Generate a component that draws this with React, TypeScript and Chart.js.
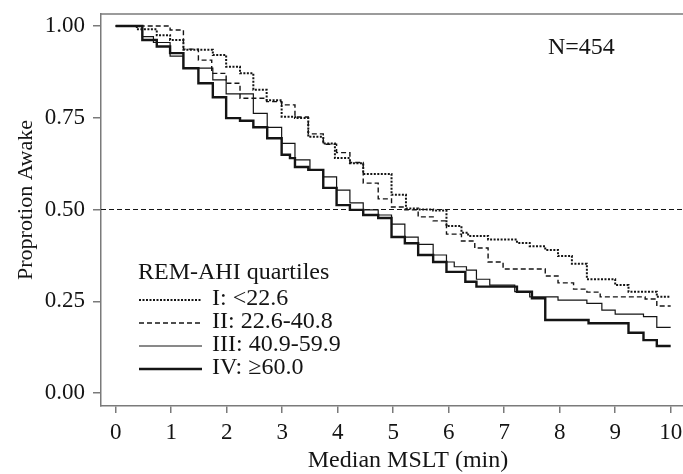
import React, { useEffect, useRef } from "react";
import { Chart, registerables } from "chart.js";

Chart.register(...registerables);

// ---------- data ----------
const seriesNames = ["I: <22.6", "II: 22.6-40.8", "III: 40.9-59.9", "IV: \u226560.0"];
const legendTitle = "REM-AHI quartiles";
const annotationText = "N=454";
const xTitle = "Median MSLT (min)";
const yTitle = "Proprotion Awake";
const xTickValues = [0, 1, 2, 3, 4, 5, 6, 7, 8, 9, 10];
const yTickValues = [0, 0.25, 0.5, 0.75, 1];
const referenceY = 0.5;
const xRange = [-0.265, 10.222];
const yRange = [-0.0354, 1.0327];

// Quartile I (dotted)
const q1Time = [0, 0.38, 0.74, 0.98, 1.22, 1.75, 1.99, 2.24, 2.48, 2.72, 2.99, 3.23, 3.47, 3.74, 3.95, 4.22, 4.46, 4.97, 5.23, 5.45, 5.72, 5.96, 6.23, 6.35, 6.71, 7.23, 7.46, 7.74, 7.97, 8.22, 8.49, 9.0, 9.24, 9.75, 10.0];
const q1Surv = [1.0, 0.991, 0.975, 0.962, 0.935, 0.921, 0.889, 0.871, 0.826, 0.798, 0.753, 0.749, 0.698, 0.68, 0.64, 0.626, 0.597, 0.54, 0.503, 0.5, 0.497, 0.455, 0.437, 0.428, 0.418, 0.409, 0.4, 0.39, 0.373, 0.352, 0.31, 0.294, 0.276, 0.262, 0.262];

// Quartile II (dashed)
const q2Time = [0, 0.98, 1.22, 1.49, 1.73, 1.99, 2.24, 2.72, 2.99, 3.23, 3.47, 3.74, 3.98, 4.22, 4.46, 4.73, 4.97, 5.21, 5.45, 5.72, 5.96, 6.23, 6.47, 6.71, 6.98, 7.74, 7.97, 8.25, 8.49, 8.73, 9.54, 9.75, 10.0];
const q2Surv = [1.0, 0.989, 0.937, 0.907, 0.871, 0.844, 0.803, 0.794, 0.785, 0.752, 0.706, 0.678, 0.655, 0.628, 0.572, 0.529, 0.507, 0.499, 0.48, 0.469, 0.433, 0.414, 0.395, 0.357, 0.338, 0.319, 0.3, 0.283, 0.275, 0.262, 0.256, 0.237, 0.237];

// Quartile III (thin solid)
const q3Time = [0, 0.48, 0.68, 0.98, 1.22, 1.75, 1.99, 2.48, 2.73, 2.99, 3.23, 3.5, 3.74, 3.98, 4.22, 4.46, 4.73, 4.97, 5.21, 5.45, 5.72, 5.96, 6.1, 6.32, 6.5, 6.74, 7.19, 7.46, 7.97, 8.49, 8.76, 9.0, 9.51, 9.75, 10.0];
const q3Surv = [1.0, 0.971, 0.955, 0.918, 0.885, 0.853, 0.815, 0.762, 0.724, 0.68, 0.635, 0.608, 0.589, 0.553, 0.518, 0.499, 0.485, 0.46, 0.425, 0.405, 0.376, 0.357, 0.344, 0.335, 0.31, 0.294, 0.276, 0.262, 0.253, 0.244, 0.226, 0.215, 0.208, 0.179, 0.179];

// Quartile IV (thick solid)
const q4Time = [0, 0.48, 0.74, 0.98, 1.22, 1.49, 1.75, 1.99, 2.24, 2.48, 2.73, 2.99, 3.14, 3.23, 3.47, 3.74, 3.98, 4.22, 4.46, 4.73, 4.97, 5.21, 5.45, 5.72, 5.96, 6.3, 6.5, 7.23, 7.5, 7.74, 8.52, 9.24, 9.51, 9.75, 10.0];
const q4Surv = [1.0, 0.962, 0.944, 0.926, 0.885, 0.844, 0.806, 0.749, 0.742, 0.724, 0.694, 0.649, 0.64, 0.616, 0.608, 0.559, 0.512, 0.499, 0.485, 0.477, 0.425, 0.408, 0.376, 0.357, 0.33, 0.303, 0.29, 0.276, 0.258, 0.199, 0.19, 0.164, 0.144, 0.128, 0.128];

const seriesTimes = [q1Time, q2Time, q3Time, q4Time];
const seriesSurv = [q1Surv, q2Surv, q3Surv, q4Surv];

// ---------- styles ----------
const INK = "#141414";
const AXIS = "#7a7a7a";
const FONT = "'Liberation Serif', 'DejaVu Serif', serif";
const seriesStyles = [
  { width: 2, dash: [2, 1.5] },
  { width: 1.4, dash: [5, 3] },
  { width: 1.2, dash: [] as number[] },
  { width: 2.4, dash: [] as number[] },
];

const overlayPlugin = {
  id: "overlay",
  afterDraw(chart: any) {
    const ctx = chart.ctx as CanvasRenderingContext2D;
    const area = chart.chartArea;
    ctx.save();
    // top frame line
    ctx.strokeStyle = AXIS;
    ctx.lineWidth = 1.5;
    ctx.beginPath();
    ctx.moveTo(area.left, area.top);
    ctx.lineTo(area.right, area.top);
    ctx.stroke();

    ctx.fillStyle = INK;
    ctx.font = `24px ${FONT}`;
    ctx.textAlign = "left";
    ctx.textBaseline = "alphabetic";
    ctx.fillText(annotationText, 548, 54);

    // legend
    ctx.fillText(legendTitle, 138, 279);
    const baselines = [305, 328, 351, 374];
    seriesNames.forEach((name, i) => {
      const st = seriesStyles[i];
      ctx.strokeStyle = INK;
      ctx.lineWidth = st.width;
      ctx.setLineDash(st.dash);
      ctx.beginPath();
      ctx.moveTo(139, baselines[i] - 5);
      ctx.lineTo(202, baselines[i] - 5);
      ctx.stroke();
      ctx.setLineDash([]);
      ctx.fillText(name, 212, baselines[i]);
    });

    // axis titles
    ctx.textAlign = "center";
    ctx.fillText(xTitle, 408, 467);
    ctx.save();
    ctx.translate(26, 200);
    ctx.rotate(-Math.PI / 2);
    ctx.font = `22px ${FONT}`;
    ctx.textBaseline = "middle";
    ctx.fillText(yTitle, 0, 0);
    ctx.restore();
    ctx.restore();
  },
};

export default function App() {
  const canvasRef = useRef<HTMLCanvasElement | null>(null);

  useEffect(() => {
    document.body.style.margin = "0";
    const canvas = canvasRef.current;
    if (!canvas) return;

    const datasets: any[] = seriesTimes.map((times, i) => ({
      label: seriesNames[i],
      data: times.map((t, j) => ({ x: t, y: seriesSurv[i][j] })),
      stepped: "before",
      borderColor: INK,
      borderWidth: seriesStyles[i].width,
      borderDash: seriesStyles[i].dash,
      pointRadius: 0,
      fill: false,
      tension: 0,
    }));
    datasets.push({
      label: "reference",
      data: [
        { x: xRange[0], y: referenceY },
        { x: xRange[1], y: referenceY },
      ],
      borderColor: INK,
      borderWidth: 1.2,
      borderDash: [5, 3],
      pointRadius: 0,
      fill: false,
    });

    const chart = new Chart(canvas, {
      type: "line",
      data: { datasets },
      options: {
        responsive: false,
        animation: false,
        devicePixelRatio: 1,
        layout: { padding: { top: 14, right: 0, left: 0, bottom: 0 } },
        plugins: { legend: { display: false }, tooltip: { enabled: false }, title: { display: false } },
        scales: {
          x: {
            type: "linear",
            min: xRange[0],
            max: xRange[1],
            afterBuildTicks: (scale: any) => {
              scale.ticks = xTickValues.map((v) => ({ value: v }));
            },
            afterFit: (scale: any) => {
              scale.height = 68;
              scale.paddingLeft = 0;
              scale.paddingRight = 0;
            },
            ticks: {
              autoSkip: false,
              maxRotation: 0,
              padding: 6,
              color: INK,
              font: { family: FONT, size: 23 },
              callback: (v: any) => String(v),
            },
            grid: { drawOnChartArea: false, drawTicks: true, tickLength: 7, color: AXIS, lineWidth: 1.5 },
            border: { display: true, color: AXIS, width: 1.5 },
          },
          y: {
            type: "linear",
            min: yRange[0],
            max: yRange[1],
            afterBuildTicks: (scale: any) => {
              scale.ticks = yTickValues.map((v) => ({ value: v }));
            },
            afterFit: (scale: any) => {
              scale.width = 101;
              scale.paddingTop = 0;
              scale.paddingBottom = 0;
            },
            ticks: {
              autoSkip: false,
              padding: 8,
              color: INK,
              font: { family: FONT, size: 23 },
              callback: (v: any) => Number(v).toFixed(2),
            },
            grid: { drawOnChartArea: false, drawTicks: true, tickLength: 8, color: AXIS, lineWidth: 1.5 },
            border: { display: true, color: AXIS, width: 1.5 },
          },
        },
      },
      plugins: [overlayPlugin],
    });

    return () => chart.destroy();
  }, []);

  return (
    <div style={{ width: 683, height: 474, background: "#fff" }}>
      <canvas ref={canvasRef} width={683} height={474} style={{ display: "block", width: 683, height: 474 }} />
    </div>
  );
}
